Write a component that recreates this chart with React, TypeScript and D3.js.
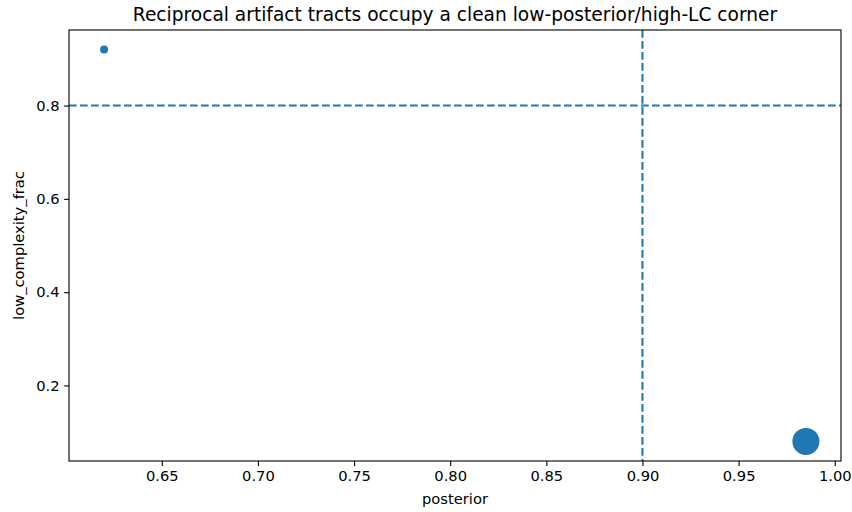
import { useRef, useEffect } from "react";
import * as d3 from "d3";

const posterior = [0.62, 0.985];
const lowComplexity = [0.92, 0.08];
const pointSizes = [4, 13.5]; // marker radius in px
const xTicks = [0.65, 0.7, 0.75, 0.8, 0.85, 0.9, 0.95, 1.0];
const yTicks = [0.2, 0.4, 0.6, 0.8];
const posteriorCut = 0.9;
const lcCut = 0.8;

const W = 852;
const H = 512;
const BLUE = "#1f77b4";
const FONT = "DejaVu Sans, sans-serif";

export default function App() {
    const svgRef = useRef<SVGSVGElement | null>(null);

    useEffect(() => {
        document.body.style.margin = "0";
        if (!svgRef.current) return;
        const svg = d3.select(svgRef.current);
        svg.selectAll("*").remove();

        const margin = { top: 30, right: 11, bottom: 51, left: 69 };

        // matplotlib style 5% padding
        const xPad = (d3.max(posterior)! - d3.min(posterior)!) * 0.05;
        const yPad = (d3.max(lowComplexity)! - d3.min(lowComplexity)!) * 0.05;

        const x = d3
            .scaleLinear()
            .domain([d3.min(posterior)! - xPad, d3.max(posterior)! + xPad])
            .range([margin.left, W - margin.right]);
        const y = d3
            .scaleLinear()
            .domain([d3.min(lowComplexity)! - yPad, d3.max(lowComplexity)! + yPad])
            .range([H - margin.bottom, margin.top]);

        svg.append("rect").attr("width", W).attr("height", H).attr("fill", "white");

        const clip = svg.append("defs").append("clipPath").attr("id", "plot-clip");
        clip
            .append("rect")
            .attr("x", margin.left)
            .attr("y", margin.top)
            .attr("width", W - margin.left - margin.right)
            .attr("height", H - margin.top - margin.bottom);

        const plot = svg.append("g").attr("clip-path", "url(#plot-clip)");

        // points
        plot
            .selectAll("circle")
            .data(posterior.map((p, i) => ({ p, lc: lowComplexity[i], r: pointSizes[i] })))
            .enter()
            .append("circle")
            .attr("cx", d => x(d.p))
            .attr("cy", d => y(d.lc))
            .attr("r", d => d.r)
            .attr("fill", BLUE);

        // threshold lines
        plot
            .append("line")
            .attr("x1", x(posteriorCut))
            .attr("x2", x(posteriorCut))
            .attr("y1", margin.top)
            .attr("y2", H - margin.bottom)
            .attr("stroke", BLUE)
            .attr("stroke-width", 2.1)
            .attr("stroke-dasharray", "7.7,3.3");
        plot
            .append("line")
            .attr("x1", margin.left)
            .attr("x2", W - margin.right)
            .attr("y1", y(lcCut))
            .attr("y2", y(lcCut))
            .attr("stroke", BLUE)
            .attr("stroke-width", 2.1)
            .attr("stroke-dasharray", "7.7,3.3");

        // axes
        const xAxis = svg
            .append("g")
            .attr("transform", `translate(0,${H - margin.bottom})`)
            .call(d3.axisBottom(x).tickValues(xTicks).tickFormat(d3.format(".2f")).tickSize(4.9).tickPadding(4.5));
        const yAxis = svg
            .append("g")
            .attr("transform", `translate(${margin.left},0)`)
            .call(d3.axisLeft(y).tickValues(yTicks).tickFormat(d3.format(".1f")).tickSize(4.9).tickPadding(4.5));

        [xAxis, yAxis].forEach(g => {
            g.select(".domain").remove();
            g.selectAll("line").attr("stroke", "#000").attr("stroke-width", 1.1);
            g.selectAll("text")
                .attr("fill", "#000")
                .style("font-family", FONT)
                .style("font-size", "14.7px");
        });

        // frame
        svg
            .append("rect")
            .attr("x", margin.left)
            .attr("y", margin.top)
            .attr("width", W - margin.left - margin.right)
            .attr("height", H - margin.top - margin.bottom)
            .attr("fill", "none")
            .attr("stroke", "#000")
            .attr("stroke-width", 1.1);

        // labels
        svg
            .append("text")
            .attr("x", (margin.left + W - margin.right) / 2)
            .attr("y", 504)
            .attr("text-anchor", "middle")
            .style("font-family", FONT)
            .style("font-size", "14.7px")
            .text("posterior");

        svg
            .append("text")
            .attr("transform", `translate(24,${(margin.top + H - margin.bottom) / 2}) rotate(-90)`)
            .attr("text-anchor", "middle")
            .style("font-family", FONT)
            .style("font-size", "14.7px")
            .text("low_complexity_frac");

        svg
            .append("text")
            .attr("x", (margin.left + W - margin.right) / 2)
            .attr("y", 21)
            .attr("text-anchor", "middle")
            .style("font-family", FONT)
            .style("font-size", "18.6px")
            .text("Reciprocal artifact tracts occupy a clean low-posterior/high-LC corner");
    }, []);

    return <svg ref={svgRef} width={W} height={H} style={{ display: "block" }} />;
}
